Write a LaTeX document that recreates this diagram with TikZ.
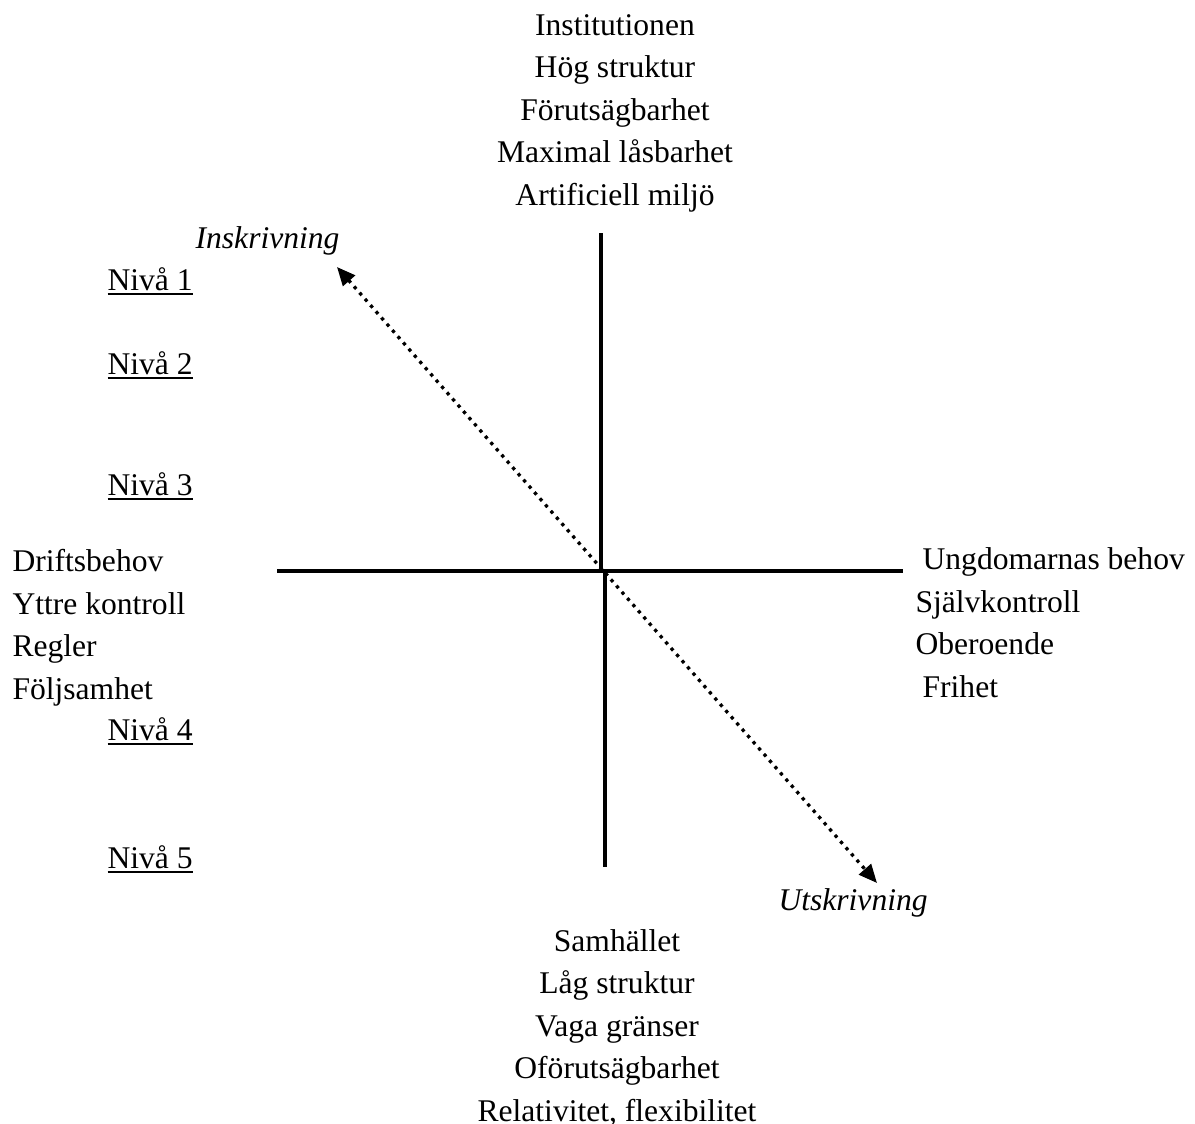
\documentclass[tikz,border=0pt]{standalone}
\usepackage{fontspec}
\setmainfont{Liberation Serif}
\usepackage{tikz}
\usetikzlibrary{arrows.meta, positioning}
\tikzstyle{lbl}=[inner sep=0pt, font=\fontsize{12}{16.1}\selectfont]
\tikzstyle{axis}=[line width=1.15pt]
\tikzstyle{move}=[line width=1.25pt, dash pattern=on 1.25pt off 1.9pt, {Triangle[length=7pt,width=6pt]}-{Triangle[length=7pt,width=6pt]}]

\begin{document}
\begin{tikzpicture}[x=0.38pt, y=-0.38pt]
    \useasboundingbox (0,0) rectangle (1195,1124);

    \node[lbl, align=center, anchor=base] (inst) at (615,205) {Institutionen\\ Hög struktur\\ Förutsägbarhet\\ Maximal låsbarhet\\ Artificiell miljö};
    \node[lbl, align=center, anchor=base] (sam) at (617,1121) {Samhället\\ Låg struktur\\ Vaga gränser\\ Oförutsägbarhet\\ Relativitet, flexibilitet};
    \node[lbl, align=left, anchor=base west] (drift) at (12,699) {Driftsbehov\\ Yttre kontroll\\ Regler\\ Följsamhet};
    \node[lbl, align=left, anchor=base west] (ungd) at (915,697) {\hspace*{2.7pt}Ungdomarnas behov\\ Självkontroll\\ Oberoende\\ \hspace*{2.7pt}Frihet};

    \node[lbl, anchor=base west] (niva1) at (107,290) {\underline{Nivå 1}};
    \node[lbl, anchor=base west] (niva2) at (107,374) {\underline{Nivå 2}};
    \node[lbl, anchor=base west] (niva3) at (107,495) {\underline{Nivå 3}};
    \node[lbl, anchor=base west] (niva4) at (107,740) {\underline{Nivå 4}};
    \node[lbl, anchor=base west] (niva5) at (107,868) {\underline{Nivå 5}};

    \node[lbl, anchor=base east, font=\fontsize{12}{16.1}\selectfont\itshape] (ins) at (340,248) {Inskrivning};
    \node[lbl, anchor=base west, font=\fontsize{12}{16.1}\selectfont\itshape] (uts) at (778,910) {Utskrivning};

    % axes
    \coordinate (vtop) at (601,233);
    \coordinate (vmid) at (601,571);
    \coordinate (vmid2) at (605,573);
    \coordinate (vbot) at (605,867);
    \coordinate (hleft) at (277,571);
    \coordinate (hright) at (903,571);
    \draw[axis] (vtop) -- (vmid);
    \draw[axis] (vmid2) -- (vbot);
    \draw[axis] (hleft) -- (hright);

    % in/out
    \coordinate (intip) at (337,267);
    \coordinate (uttip) at (877,883);
    \draw[move] (intip) -- (uttip);
\end{tikzpicture}
\end{document}
